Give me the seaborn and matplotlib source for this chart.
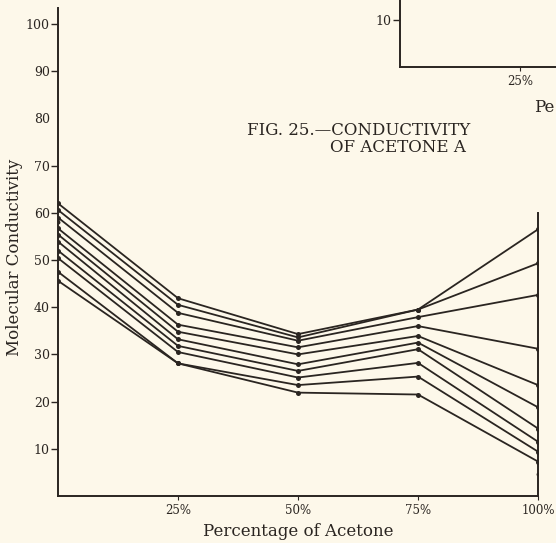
import matplotlib
matplotlib.use("Agg")
import matplotlib.pyplot as plt
import pandas as pd
import seaborn as sns

# ---- data ----
acetone_pct = [0, 25, 50, 75, 100]
line_1 = [62.0, 41.9, 34.3, 39.5, 56.5]
line_2 = [60.6, 40.5, 33.6, 39.5, 49.3]
line_3 = [59.0, 38.8, 32.9, 37.9, 42.6]
line_4 = [56.7, 36.3, 31.5, 36.0, 31.2]
line_5 = [55.4, 34.8, 30.0, 33.9, 23.5]
line_6 = [53.9, 33.2, 27.9, 32.5, 18.8]
line_7 = [52.0, 31.8, 26.5, 31.1, 14.3]
line_8 = [50.4, 30.5, 25.1, 28.2, 11.5]
line_9 = [47.5, 28.1, 23.5, 25.3, 9.4]
line_10 = [45.6, 28.1, 21.9, 21.5, 7.3]
extra_pct = [0, 100]
extra_val = [58.1, 4.7]

y_ticks = [10, 20, 30, 40, 50, 60, 70, 80, 90, 100]
x_ticks = [25, 50, 75, 100]
x_tick_labels = ["25%", "50%", "75%", "100%"]

series = [line_1, line_2, line_3, line_4, line_5,
          line_6, line_7, line_8, line_9, line_10]
rows = []
for i, vals in enumerate(series):
    for p, v in zip(acetone_pct, vals):
        rows.append({"series": i, "pct": p, "value": v})
df = pd.DataFrame(rows)
extra_df = pd.DataFrame({"pct": extra_pct, "value": extra_val})

# ---- style ----
sns.set_style("ticks")
plt.rcParams["font.family"] = ["DejaVu Serif"]
paper = "#fdf8ea"
ink = "#2a2521"

W, H = 556, 543
fig = plt.figure(figsize=(W / 100, H / 100), dpi=100, facecolor=paper)

# main axes: x 58..538 px, y 8..496 px
ax = fig.add_axes([58 / W, (H - 496) / H, 480 / W, 488 / H])
ax.set_facecolor(paper)

sns.lineplot(data=df, x="pct", y="value", units="series", estimator=None,
             sort=False, color=ink, linewidth=1.3, marker="o",
             markersize=3.6, markeredgewidth=0, ax=ax, legend=False)
sns.scatterplot(data=extra_df, x="pct", y="value", color=ink, s=8,
                linewidth=0, ax=ax, legend=False)

ax.set_xlim(0, 100)
ax.set_ylim(0, 488 / 4.72)
ax.set_yticks(y_ticks)
ax.set_yticklabels([str(t) for t in y_ticks])
ax.set_xticks(x_ticks)
ax.set_xticklabels(x_tick_labels)
ax.tick_params(axis="y", direction="out", length=5, width=1.0, pad=1,
               labelsize=9, colors=ink)
ax.tick_params(axis="x", direction="out", length=3, width=0.8, pad=3,
               labelsize=8.5, colors=ink)
ax.yaxis.get_major_ticks()[7].tick1line.set_visible(False)  # no dash at 80
for s in ["left", "bottom", "right"]:
    ax.spines[s].set_color(ink)
    ax.spines[s].set_linewidth(1.4)
ax.spines["top"].set_visible(False)
ax.spines["right"].set_bounds(0, 60)

ax.set_xlabel("Percentage of Acetone", fontsize=12, color=ink, labelpad=4)
ax.set_ylabel("Molecular Conductivity", fontsize=12, color=ink)
ax.yaxis.set_label_coords(-0.072, 0.488)

# fragment of the neighbouring figure (top right)
ax2 = fig.add_axes([400 / W, (H - 67) / H, 480 / W, 120 / H])
ax2.set_facecolor("none")
ax2.set_xlim(0, 100)
ax2.set_ylim(0, 120 / 4.72)
ax2.set_yticks([10])
ax2.set_yticklabels(["10"])
ax2.set_xticks([25])
ax2.set_xticklabels(["25%"])
ax2.tick_params(axis="y", direction="out", length=5, width=1.0, pad=1,
                labelsize=9, colors=ink)
ax2.tick_params(axis="x", direction="out", length=3, width=0.8, pad=3,
                labelsize=8.5, colors=ink)
for s in ["left", "bottom"]:
    ax2.spines[s].set_color(ink)
    ax2.spines[s].set_linewidth(1.4)
ax2.spines["top"].set_visible(False)
ax2.spines["right"].set_visible(False)

fig.text(534 / W, 1 - 107 / H, "Pe", fontsize=12, color=ink,
         va="center", ha="left")
fig.text(247 / W, 1 - 130 / H, "FIG. 25.—CONDUCTIVITY", fontsize=12,
         color=ink, va="center", ha="left")
fig.text(330 / W, 1 - 148 / H, "OF ACETONE A", fontsize=12,
         color=ink, va="center", ha="left")

fig.savefig("out.png", dpi=100, facecolor=paper)
